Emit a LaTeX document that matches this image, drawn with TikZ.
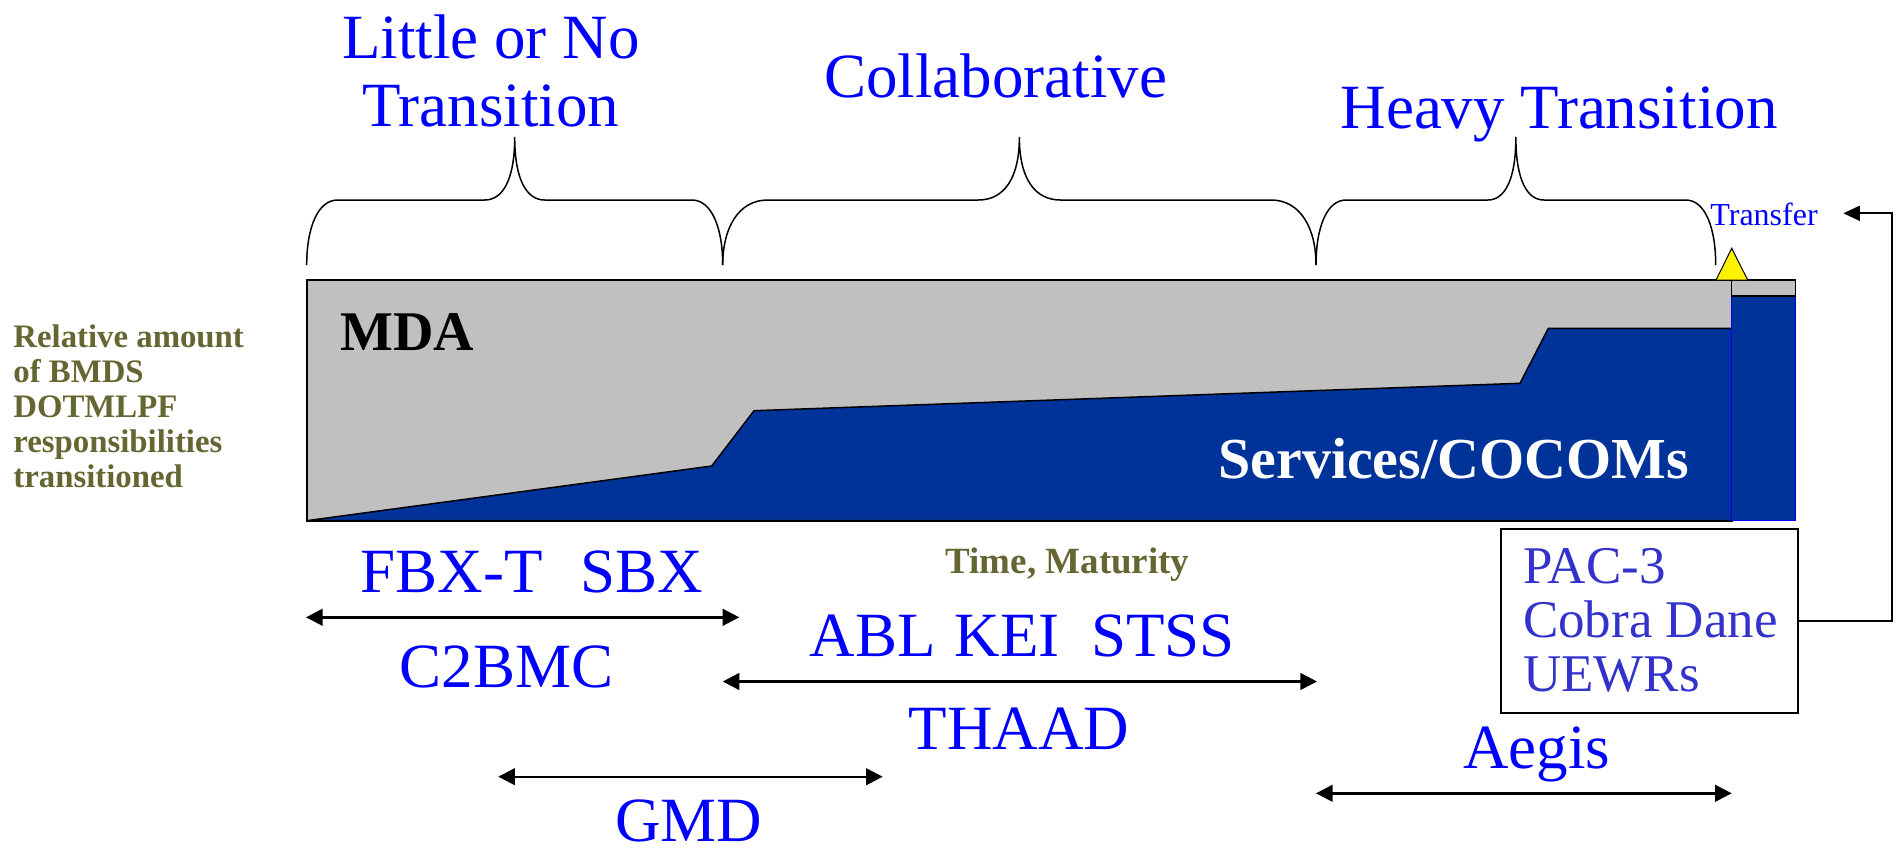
\documentclass[tikz,border=0pt]{standalone}
\usepackage{fontspec}
\setmainfont{Liberation Serif}
\usetikzlibrary{arrows.meta}
\definecolor{mblue}{RGB}{0,0,255}
\definecolor{navyfill}{RGB}{0,51,153}
\definecolor{olivetext}{RGB}{102,102,51}
\definecolor{boxblue}{RGB}{51,51,204}
\definecolor{mgray}{RGB}{192,192,192}
\newcommand{\mybrace}[4]{%
 \draw[bracestyle] (#1,265) .. controls (#1,228) and ({#1+0.35*#3},200) .. ({#1+#3},200)
  -- ({(#1+#2)/2-#4},200) .. controls ({(#1+#2)/2-0.4*#4},200) and ({(#1+#2)/2},180) .. ({(#1+#2)/2},137)
  .. controls ({(#1+#2)/2},180) and ({(#1+#2)/2+0.4*#4},200) .. ({(#1+#2)/2+#4},200)
  -- ({#2-#3},200) .. controls ({#2-0.35*#3},200) and (#2,228) .. (#2,265);}
\begin{document}
\begin{tikzpicture}[x=0.5pt,y=-0.5pt,
 big/.style={font=\fontsize{31.5}{34}\selectfont, text=mblue, anchor=base, inner sep=0pt},
 lab/.style={font=\fontsize{18.5}{22.2}\selectfont\bfseries, text=olivetext, inner sep=0pt},
 sidelab/.style={font=\fontsize{16.4}{17.5}\selectfont\bfseries, text=olivetext, inner sep=0pt, anchor=base west},
 boxtext/.style={font=\fontsize{26.5}{27}\selectfont, text=boxblue, anchor=base west, inner sep=0pt},
 bracestyle/.style={line width=0.75pt},
 span/.style={line width=1.2pt, {Triangle[length=8.3pt,width=8.3pt]}-{Triangle[length=8.3pt,width=8.3pt]}},
]
\useasboundingbox (0,0) rectangle (1898,851);
% headings
\node[big] (little) at (490.8,58.3) {Little or No};
\node[big] (trans1) at (490.8,126.7) {Transition};
\node[big] (collab) at (995.5,97.3) {Collaborative};
\node[big] (heavy) at (1559,128.3) {Heavy Transition};
% braces
\mybrace{306.7}{722.7}{31}{30}
\mybrace{722.7}{1316}{45}{41}
\mybrace{1316}{1715.7}{30}{28}
% main chart
\fill[mgray] (306.7,280) rectangle (1731.7,520.7);
\fill[navyfill, draw=black, line width=0.75pt, line join=miter] (306.7,520.7) -- (711.7,466) -- (754,410.7) -- (1520,383.3) -- (1548.3,328.3) -- (1731.7,328.3) -- (1731.7,520.7) -- cycle;
\draw[line width=1pt] (306.7,280) rectangle (1731.7,520.7);
\draw[fill=navyfill, draw=mblue, line width=0.5pt] (1731.7,296) rectangle (1795.7,520.7);
\draw[fill=mgray, line width=0.75pt] (1731.7,280) rectangle (1795.7,296);
\draw[fill=yellow, line width=0.5pt] (1716,280) -- (1731.7,248.3) -- (1747.7,280) -- cycle;
\node[font=\fontsize{28}{30}\selectfont\bfseries, anchor=base west, inner sep=0pt] (mda) at (340,350.7) {MDA};
\node[font=\fontsize{29}{31}\selectfont\bfseries, text=white, anchor=base east, inner sep=0pt] (serv) at (1689,478.3) {Services/COCOMs};
\node[font=\fontsize{16}{18}\selectfont, text=mblue, anchor=base west, inner sep=0pt] (transfer) at (1710,225) {Transfer};
% left label
\node[sidelab] (l1) at (13,347) {Relative amount};
\node[sidelab] (l2) at (13,382.2) {of BMDS};
\node[sidelab] (l3) at (13,417.4) {DOTMLPF};
\node[sidelab] (l4) at (13,452.6) {responsibilities};
\node[sidelab] (l5) at (13,487.8) {transitioned};
\node[lab, anchor=base] (time) at (1067.5,573.3) {Time, Maturity};
% programmes
\node[big] (fbx) at (532,592.7) {FBX-T\hskip0.6em SBX};
\node[big] (c2) at (506.3,687.7) {C2BMC};
\node[big] (abl) at (1022.3,656.7) {ABL\hskip0.3em KEI\hskip0.5em STSS};
\node[big] (thaad) at (1018.8,749.3) {THAAD};
\node[big] (gmd) at (688.5,841.7) {GMD};
\node[big] (aegis) at (1536.7,768.3) {Aegis};
% spans
\coordinate (a1l) at (306,617.3); \coordinate (a1r) at (739.3,617.3);
\coordinate (a2l) at (722.7,681.5); \coordinate (a2r) at (1317,681.5);
\coordinate (a3l) at (498.3,776.7); \coordinate (a3r) at (882.7,776.7);
\coordinate (a4l) at (1316,793.3); \coordinate (a4r) at (1731.7,793.3);
\draw[span] (a1l) -- (a1r);
\draw[span] (a2l) -- (a2r);
\draw[span] (a3l) -- (a3r);
\draw[span] (a4l) -- (a4r);
% box
\node[draw, line width=1pt, minimum width=148.5pt, minimum height=91.85pt, inner sep=0pt] (box) at (1649.2,620.85) {};
\node[boxtext] (pac) at (1522.7,583.3) {PAC-3};
\node[boxtext] (cobra) at (1522.7,637.3) {Cobra Dane};
\node[boxtext] (uewr) at (1522.7,691.7) {UEWRs};
\coordinate (tr) at (1843.3,213.3);
\draw[line width=1pt, -{Triangle[length=8.3pt,width=7.5pt]}] (box.east) -| (1892.3,213.3) -- (tr);
\end{tikzpicture}
\end{document}
